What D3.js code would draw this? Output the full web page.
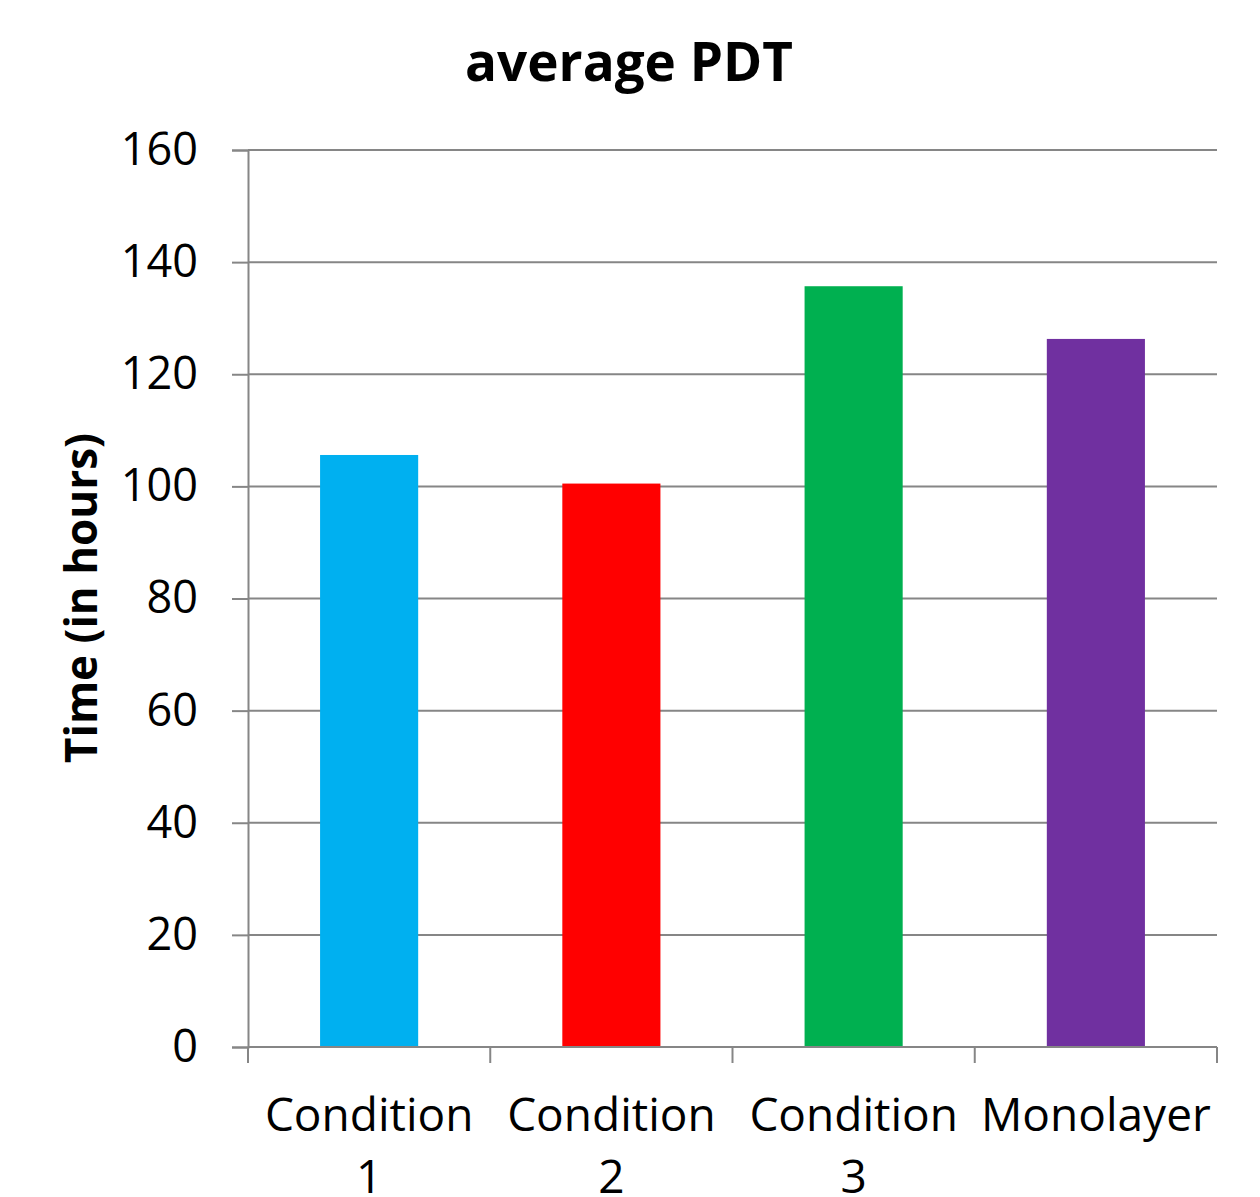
<!DOCTYPE html>
<html>
<head>
<meta charset="utf-8">
<script src="https://cdn.jsdelivr.net/npm/d3@7"></script>
<style>
  html, body { margin: 0; padding: 0; background: #fff; }
  svg { display: block; font-family: "Open Sans", sans-serif; font-variant-ligatures: none; }
</style>
</head>
<body>
<svg id="chart" width="1260" height="1197"></svg>
<script>
// Average population doubling time per culture condition
const categories = [["Condition", "1"], ["Condition", "2"], ["Condition", "3"], ["Monolayer"]];
const values = [105.6, 100.5, 135.7, 126.3];
const colors = ["#00B0F0", "#FF0000", "#00B050", "#7030A0"];
const yTicks = [0, 20, 40, 60, 80, 100, 120, 140, 160];

const svg = d3.select("#chart");
const margin = { left: 248, right: 43, top: 150 };
const width = 1260;
const plotBottom = 1047;
const font = "'Open Sans', sans-serif";

const x = d3.scaleBand()
  .domain(d3.range(categories.length))
  .range([margin.left, width - margin.right])
  .paddingInner(0.595)
  .paddingOuter(0.2975);

const y = d3.scaleLinear()
  .domain([0, 160])
  .range([plotBottom, margin.top]);

const grey = "#868686";

// horizontal gridlines
svg.append("g")
  .selectAll("line")
  .data(yTicks.filter(d => d > 0))
  .join("line")
  .attr("x1", margin.left)
  .attr("x2", width - margin.right)
  .attr("y1", d => y(d))
  .attr("y2", d => y(d))
  .attr("stroke", grey)
  .attr("stroke-width", 2);

// bars
svg.append("g")
  .selectAll("rect")
  .data(values)
  .join("rect")
  .attr("x", (d, i) => x(i))
  .attr("width", x.bandwidth())
  .attr("y", d => y(d))
  .attr("height", d => y(0) - y(d))
  .attr("fill", (d, i) => colors[i]);

// y axis
const yAxis = svg.append("g")
  .attr("transform", `translate(${margin.left},0)`)
  .call(d3.axisLeft(y).tickValues(yTicks).tickSize(16).tickPadding(34));
yAxis.select(".domain").attr("stroke", grey).attr("stroke-width", 2);
yAxis.selectAll(".tick line").attr("stroke", grey).attr("stroke-width", 2);
yAxis.selectAll(".tick text")
  .attr("fill", "#000")
  .attr("font-size", 45)
  .attr("font-family", font);

// x axis with category boundary ticks
const step = x.step();
const boundaries = d3.range(categories.length + 1).map(i => margin.left + i * step);
const xg = svg.append("g");
xg.append("line")
  .attr("x1", margin.left).attr("x2", width - margin.right)
  .attr("y1", y(0)).attr("y2", y(0))
  .attr("stroke", grey).attr("stroke-width", 2);
xg.selectAll("line.tk")
  .data(boundaries)
  .join("line")
  .attr("class", "tk")
  .attr("x1", d => d).attr("x2", d => d)
  .attr("y1", y(0)).attr("y2", y(0) + 16)
  .attr("stroke", grey).attr("stroke-width", 2);

// category labels (wrapped)
const lbl = svg.append("g")
  .selectAll("text")
  .data(categories)
  .join("text")
  .attr("text-anchor", "middle")
  .attr("font-size", 46)
  .attr("fill", "#000")
  .attr("transform", (d, i) => `translate(${x(i) + x.bandwidth() / 2},1131)`);
lbl.selectAll("tspan")
  .data(d => d)
  .join("tspan")
  .attr("x", 0)
  .attr("y", (d, j) => j * 62)
  .text(d => d);

// title
svg.append("text")
  .attr("x", 629)
  .attr("y", 81)
  .attr("text-anchor", "middle")
  .attr("font-size", 53)
  .attr("font-weight", "bold")
  .attr("fill", "#000")
  .text("average PDT");

// y axis title
svg.append("text")
  .attr("transform", "translate(97,598) rotate(-90)")
  .attr("text-anchor", "middle")
  .attr("font-size", 44)
  .attr("font-weight", "bold")
  .attr("fill", "#000")
  .text("Time (in hours)");
</script>
</body>
</html>
